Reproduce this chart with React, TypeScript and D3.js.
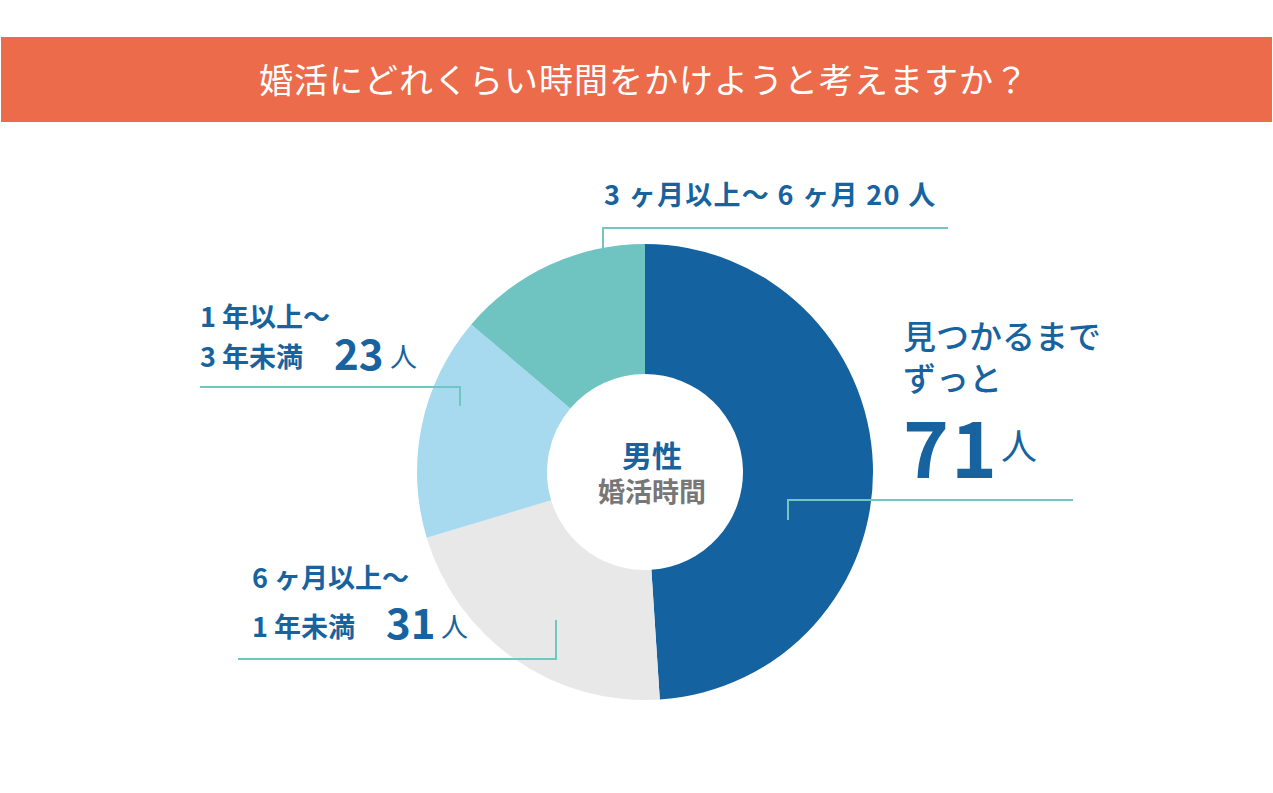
import React, { useEffect, useRef } from "react";
import * as d3 from "d3";

// データ
const categories = ["見つかるまでずっと", "6ヶ月以上～1年未満", "1年以上～3年未満", "3ヶ月以上～6ヶ月"];
const counts = [71, 31, 23, 20];
const colors = ["#1562a0", "#e8e8e8", "#a7d9ef", "#6fc4c1"];
const title = "婚活にどれくらい時間をかけようと考えますか？";

const W = 1273;
const H = 793;
const BLUE = "#1763a0";
const LINE = "#72c6c1";
const FONT = "'Noto Sans CJK JP', 'Noto Sans', sans-serif";

export default function App() {
  const svgRef = useRef<SVGSVGElement>(null);

  useEffect(() => {
    const svg = d3.select(svgRef.current);
    svg.selectAll("*").remove();
    svg.attr("width", W).attr("height", H).style("font-family", FONT);

    // タイトルバー
    svg.append("rect").attr("x", 1).attr("y", 37).attr("width", 1271).attr("height", 85).attr("fill", "#eb6b4b");
    svg.append("text")
      .attr("x", 644).attr("y", 93)
      .attr("text-anchor", "middle")
      .attr("fill", "#fff")
      .attr("font-size", 34)
      .attr("letter-spacing", 1)
      .attr("font-weight", 400)
      .text(title);

    const cx = 645, cy = 472;
    const pie = d3.pie<number>().sort(null).value((d) => d);
    const arc = d3.arc<d3.PieArcDatum<number>>().innerRadius(98).outerRadius(228);

    const g = svg.append("g").attr("transform", `translate(${cx},${cy})`);
    g.selectAll("path")
      .data(pie(counts))
      .enter()
      .append("path")
      .attr("d", arc)
      .attr("fill", (_, i) => colors[i]);

    // 中央ラベル
    g.append("text").attr("x", 7).attr("y", -5).attr("text-anchor", "middle").attr("fill", BLUE)
      .attr("font-size", 30).attr("font-weight", 700).text("男性");
    g.append("text").attr("x", 7).attr("y", 30).attr("text-anchor", "middle").attr("fill", "#777")
      .attr("font-size", 27).attr("font-weight", 700).text("婚活時間");

    // 引き出し線
    const lines = [
      [[788, 520], [788, 500], [1073, 500]],
      [[603, 250], [603, 228], [948, 228]],
      [[200, 387], [460, 387], [460, 406]],
      [[238, 659], [556, 659], [556, 620]],
    ];
    const lineGen = d3.line();
    svg.selectAll(".leader")
      .data(lines)
      .enter()
      .append("path")
      .attr("class", "leader")
      .attr("d", (d) => lineGen(d as [number, number][]))
      .attr("fill", "none")
      .attr("stroke", LINE)
      .attr("stroke-width", 2);

    const txt = (x: number, y: number, s: string, size: number, weight = 500) =>
      svg.append("text").attr("x", x).attr("y", y).attr("fill", BLUE)
        .attr("font-size", size).attr("font-weight", weight).text(s);

    // 71人
    const t71 = svg.append("text").attr("fill", BLUE).attr("font-size", 33).attr("font-weight", 500);
    t71.append("tspan").attr("x", 903).attr("y", 349).text("見つかるまで");
    t71.append("tspan").attr("x", 903).attr("y", 391).text("ずっと");
    txt(903, 478, String(counts[0]), 78, 700).attr("letter-spacing", 2);
    txt(1001, 460, "人", 36, 400);

    // 20人
    txt(604, 205, "3 ヶ月以上～ 6 ヶ月 " + counts[3] + " 人", 27, 700).attr("letter-spacing", 1.3);

    // 23人
    txt(200, 327, "1 年以上～", 27, 700);
    txt(200, 367, "3 年未満", 27, 700);
    txt(334, 370, String(counts[2]), 42, 700);
    txt(390, 367, "人", 27, 400);

    // 31人
    txt(252, 588, "6 ヶ月以上～", 27, 700);
    txt(252, 637, "1 年未満", 27, 700);
    txt(386, 639, String(counts[1]), 42, 700);
    txt(441, 637, "人", 27, 400);
  }, []);

  return <svg ref={svgRef} style={{ display: "block", position: "absolute", left: 0, top: 0 }} />;
}
